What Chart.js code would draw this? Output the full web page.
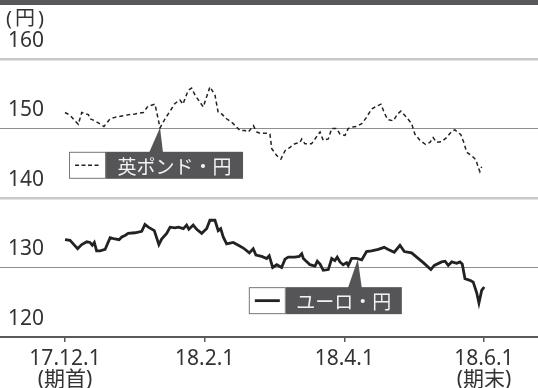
<!DOCTYPE html>
<html>
<head>
<meta charset="utf-8">
<script src="https://cdn.jsdelivr.net/npm/chart.js@4/dist/chart.umd.min.js"></script>
<style>
  body { margin: 0; background: #fff; }
</style>
</head>
<body>
<canvas id="myChart" width="538" height="388"></canvas>
<script>
// days since 17.12.1, values in yen
const gbpDays = [0, 2.2, 5.8, 7.3, 10.2, 10.9, 13.1, 17.0, 19.7, 21.8, 26.2, 30.6, 34.2, 36.2, 39.3, 41.5, 43.7, 45.9, 48.0, 50.2, 51.5, 53.8, 55.3, 56.8, 60.4, 63.3, 65.5, 66.9, 68.4, 70.6, 72.8, 75.0, 76.4, 78.6, 80.1, 82.3, 83.7, 85.2, 88.1, 89.5, 90.3, 92.5, 94.3, 96.1, 98.3, 100.4, 102.6, 103.4, 104.8, 107.7, 109.2, 111.4, 112.8, 115.0, 116.5, 118.6, 120.1, 122.3, 123.7, 125.2, 127.4, 129.6, 131.7, 133.9, 136.1, 138.0, 139.4, 140.9, 143.4, 145.3, 146.7, 149.2, 151.4, 152.8, 155.0, 157.5, 159.4, 160.8, 162.3, 164.5, 166.7, 168.9, 170.3, 172.9, 174.4, 175.4, 177.6, 179.5, 180.5, 181.2, 182.0];
const gbpValues = [152.3, 151.9, 150.6, 152.3, 152.0, 151.4, 151.1, 150.3, 151.4, 151.6, 151.9, 152.1, 152.3, 153.2, 153.5, 150.1, 151.4, 152.5, 153.6, 154.1, 153.5, 155.5, 155.8, 154.8, 153.1, 156.0, 154.8, 152.3, 152.1, 151.4, 150.9, 150.2, 149.7, 149.7, 149.5, 150.4, 149.5, 149.3, 149.3, 149.2, 147.1, 146.1, 145.6, 146.8, 147.3, 147.8, 148.0, 148.5, 147.8, 147.8, 148.5, 149.5, 148.3, 148.5, 150.0, 150.0, 149.2, 149.0, 150.0, 150.2, 150.3, 150.7, 151.6, 152.8, 153.2, 153.5, 152.3, 151.3, 151.1, 152.1, 152.5, 151.6, 150.7, 149.2, 148.3, 147.7, 148.0, 148.7, 148.0, 148.1, 148.7, 149.6, 149.8, 149.1, 147.8, 146.6, 146.1, 145.5, 144.4, 143.8, 144.5];

const eurDays = [0, 2.2, 3.6, 5.5, 7.3, 9.5, 10.9, 11.9, 12.8, 13.8, 15.3, 17.5, 19.7, 21.8, 23.6, 24.8, 26.2, 27.6, 30.6, 33.5, 34.9, 36.4, 39.0, 41.0, 42.2, 44.4, 45.9, 48.0, 49.5, 51.7, 53.1, 54.1, 56.0, 57.5, 59.7, 61.9, 63.3, 65.5, 66.9, 68.0, 69.1, 70.6, 73.5, 75.7, 77.9, 80.5, 82.2, 83.4, 85.9, 88.1, 89.2, 90.7, 92.5, 94.6, 96.1, 97.5, 100.4, 102.3, 103.4, 104.1, 107.0, 109.2, 110.2, 111.4, 112.8, 115.0, 116.5, 117.9, 118.9, 120.1, 121.5, 123.0, 123.7, 125.2, 127.4, 129.6, 131.7, 133.9, 136.8, 139.4, 141.2, 143.8, 146.3, 148.2, 151.4, 153.6, 156.5, 159.8, 161.3, 164.5, 166.0, 167.4, 168.9, 171.1, 172.5, 173.5, 174.7, 177.3, 178.3, 179.8, 180.8, 182.0, 183.1];
const eurValues = [134.0, 133.9, 133.4, 132.7, 133.3, 133.7, 133.6, 133.2, 133.6, 132.4, 132.4, 132.6, 134.3, 134.1, 134.0, 134.4, 134.6, 134.9, 135.0, 135.2, 136.2, 135.8, 135.3, 133.3, 134.1, 134.9, 135.8, 135.7, 135.8, 135.6, 136.1, 135.5, 136.1, 135.5, 134.9, 135.6, 136.8, 136.8, 135.3, 135.6, 134.4, 133.4, 133.6, 133.2, 132.8, 132.1, 132.7, 131.8, 131.6, 131.3, 131.7, 130.0, 130.4, 130.0, 131.2, 131.5, 131.5, 131.6, 132.0, 131.3, 130.4, 130.2, 130.9, 130.5, 129.6, 129.7, 131.3, 131.0, 131.5, 130.8, 130.4, 130.7, 130.3, 131.3, 131.3, 131.1, 132.3, 132.4, 132.6, 132.9, 132.6, 132.2, 133.2, 132.3, 132.1, 131.5, 130.7, 129.7, 130.3, 130.8, 130.9, 130.3, 130.8, 130.6, 130.8, 130.5, 128.4, 128.1, 127.9, 126.4, 124.9, 126.7, 127.2];

const tickDays = [0, 61, 122, 183];
const tickLabels = [['17.12.1', '(期首)'], ['18.2.1'], ['18.4.1'], ['18.6.1', '(期末)']];
const yTicks = [120, 130, 140, 150, 160];

// callouts: name, anchor on the line (day, value)
const calloutNames = ['英ポンド・円', 'ユーロ・円'];
const calloutDays = [41.5, 127.9];
const calloutValues = [150.1, 131.2];

const FONT = "'Noto Sans', 'Noto Sans CJK JP', sans-serif";
const JP_FONT = "'Noto Sans CJK JP', sans-serif";

const zip = (xs, ys) => xs.map((x, i) => ({ x: x, y: ys[i] }));

const decorations = {
  id: 'decorations',
  afterDatasetsDraw(chart) {
    const ctx = chart.ctx;
    const xs = chart.scales.x;
    const ys = chart.scales.y;
    // box geometry relative to the tip, [whiteLeft, split, right, top, triLeft, triRight]
    const geo = [
      [-91, -54, 83, 24, -11, 3],
      [-109, -72, 44, 28, -10, 4]
    ];
    ctx.save();
    calloutNames.forEach((name, i) => {
      const tx = xs.getPixelForValue(calloutDays[i]);
      const ty = ys.getPixelForValue(calloutValues[i]);
      const g = geo[i];
      const top = ty + g[3];
      const h = 27;
      // pointer
      ctx.fillStyle = '#555557';
      ctx.beginPath();
      ctx.moveTo(tx + g[4], top + 1);
      ctx.lineTo(tx, ty);
      ctx.lineTo(tx + g[5], top + 1);
      ctx.closePath();
      ctx.fill();
      // dark label
      ctx.fillRect(tx + g[1], top, g[2] - g[1], h);
      ctx.fillStyle = '#f2f2f2';
      ctx.font = '19px ' + JP_FONT;
      ctx.textAlign = 'center';
      ctx.textBaseline = 'middle';
      ctx.fillText(name, tx + (g[1] + g[2]) / 2, top + h / 2 + 1);
      // white sample box
      ctx.fillStyle = '#fff';
      ctx.fillRect(tx + g[0], top, g[1] - g[0], h);
      ctx.strokeStyle = '#777';
      ctx.lineWidth = 1;
      ctx.strokeRect(tx + g[0] + 0.5, top + 0.5, g[1] - g[0] - 1, h - 1);
      ctx.strokeStyle = '#222';
      ctx.beginPath();
      if (i === 0) {
        ctx.lineWidth = 1.5;
        ctx.setLineDash([4, 2.5]);
      } else {
        ctx.lineWidth = 2.8;
        ctx.setLineDash([]);
      }
      ctx.moveTo(tx + g[0] + 6, top + h / 2);
      ctx.lineTo(tx + g[1] - 6, top + h / 2);
      ctx.stroke();
      ctx.setLineDash([]);
    });
    ctx.restore();
  },
  afterDraw(chart) {
    const ctx = chart.ctx;
    ctx.save();
    ctx.fillStyle = '#58585a';
    ctx.fillRect(0, 0, chart.width, 5);
    ctx.fillStyle = '#333';
    ctx.font = '20px ' + FONT;
    ctx.letterSpacing = '3px';
    ctx.textAlign = 'left';
    ctx.textBaseline = 'middle';
    ctx.fillText('(円)', 6, 19);
    ctx.restore();
  }
};

const ctx = document.getElementById('myChart');
new Chart(ctx, {
  type: 'line',
  data: {
    datasets: [
      {
        label: '英ポンド・円',
        data: zip(gbpDays, gbpValues),
        borderColor: '#222',
        borderWidth: 1.5,
        borderDash: [4, 3],
        pointRadius: 0,
        tension: 0
      },
      {
        label: 'ユーロ・円',
        data: zip(eurDays, eurValues),
        borderColor: '#222',
        borderWidth: 2.8,
        pointRadius: 0,
        tension: 0
      }
    ]
  },
  options: {
    responsive: false,
    animation: false,
    layout: { padding: { top: 59, left: 0, right: 0, bottom: 0 } },
    plugins: {
      legend: { display: false },
      tooltip: { enabled: false }
    },
    scales: {
      x: {
        type: 'linear',
        min: -28.4,
        max: 206.6,
        afterBuildTicks: (scale) => {
          scale.ticks = tickDays.map(v => ({ value: v }));
        },
        afterFit: (scale) => {
          scale.height = 51;
          scale.paddingLeft = 0;
          scale.paddingRight = 0;
        },
        border: { display: true, color: '#5a5a5a', width: 2 },
        grid: {
          drawOnChartArea: false,
          drawTicks: true,
          tickLength: 5,
          color: '#5a5a5a',
          lineWidth: 1.5
        },
        ticks: {
          autoSkip: false,
          maxRotation: 0,
          padding: 7,
          color: '#333',
          font: { family: FONT, size: 21, lineHeight: 1.0 },
          callback: (value) => {
            const i = tickDays.indexOf(value);
            return i >= 0 ? tickLabels[i] : '';
          }
        }
      },
      y: {
        min: 120,
        max: 160,
        afterBuildTicks: (scale) => {
          scale.ticks = yTicks.map(v => ({ value: v }));
        },
        afterFit: (scale) => {
          scale.width = 0;
          scale.paddingTop = 0;
          scale.paddingBottom = 0;
        },
        border: { display: false },
        grid: {
          drawTicks: false,
          color: (c) => {
            const v = c.tick.value;
            if (v === 120) return 'rgba(0,0,0,0)';
            return (v === 160 || v === 140) ? '#c8c8c8' : '#8e8e8e';
          },
          lineWidth: (c) => {
            const v = c.tick.value;
            return (v === 160 || v === 140) ? 2.5 : 1;
          }
        },
        ticks: {
          mirror: true,
          padding: 8,
          labelOffset: -18,
          color: '#333',
          font: { family: FONT, size: 21 }
        }
      }
    }
  },
  plugins: [decorations]
});
</script>
</body>
</html>
